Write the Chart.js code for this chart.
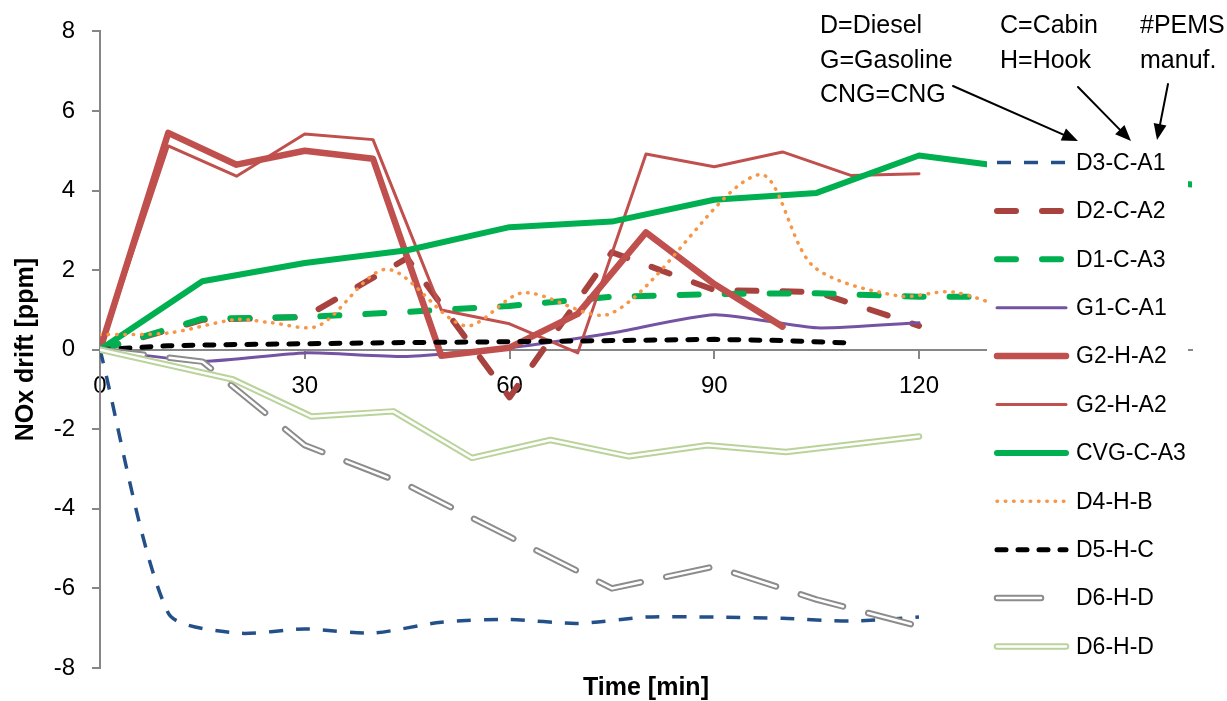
<!DOCTYPE html>
<html>
<head>
<meta charset="utf-8">
<script src="https://cdn.jsdelivr.net/npm/chart.js@4.4.1/dist/chart.umd.min.js"></script>
<style>
  body { margin: 0; background: #fff; }
  canvas { display: block; }
</style>
</head>
<body>
<canvas id="grab" width="1227" height="701"></canvas>
<script>
// values (time in min, NOx drift in ppm)
const labels = ["D3-C-A1", "D2-C-A2", "D1-C-A3", "G1-C-A1", "G2-H-A2", "G2-H-A2",
                "CVG-C-A3", "D4-H-B", "D5-H-C", "D6-H-D", "D6-H-D"];

const tD3 = [0, 10, 20, 30, 40, 50, 60, 70, 80, 90, 100, 110, 120];
const yD3 = [0, -6.62, -7.12, -7.02, -7.12, -6.85, -6.78, -6.88, -6.72, -6.72, -6.75, -6.82, -6.72];

const tD2 = [0, 15, 30, 45, 60, 75, 90, 105, 120];
const yD2 = [0, 0.75, 0.82, 2.3, -1.2, 2.45, 1.5, 1.45, 0.6];

const tD1 = [0, 15, 30, 45, 60, 75, 90, 105, 120, 135];
const yD1 = [0, 0.78, 0.82, 0.95, 1.1, 1.33, 1.4, 1.42, 1.33, 1.33];

const tG1 = [0, 15, 30, 45, 60, 75, 90, 105, 120];
const yG1 = [0, -0.29, -0.08, -0.17, 0.05, 0.42, 0.88, 0.55, 0.68];

const tG2a = [0, 10, 20, 30, 40, 50, 60, 70, 80, 90, 100];
const yG2a = [0, 5.45, 4.65, 5.0, 4.8, -0.15, 0.05, 0.9, 2.95, 1.65, 0.58];

const tG2b = [0, 10, 20, 30, 40, 50, 60, 70, 80, 90, 100, 110, 120];
const yG2b = [0, 5.12, 4.36, 5.42, 5.28, 1.0, 0.65, -0.08, 4.92, 4.6, 4.97, 4.38, 4.42];

const tCVG = [0, 15, 30, 45, 60, 75, 90, 105, 120, 135, 160];
const yCVG = [0, 1.72, 2.18, 2.5, 3.08, 3.22, 3.77, 3.94, 4.88, 4.55, 4.15];

const tD4 = [0, 10, 20, 25, 32, 42, 53.5, 62, 75, 96.5, 104.5, 117, 125, 135];
const yD4 = [0.38, 0.42, 0.76, 0.68, 0.6, 2.02, 0.6, 1.43, 0.92, 4.4, 2.1, 1.35, 1.45, 0.9];

const tD5 = [0, 10, 20, 30, 45, 60, 75, 90, 100, 110];
const yD5 = [0, 0.1, 0.13, 0.15, 0.18, 0.2, 0.23, 0.26, 0.23, 0.17];

const tD6a = [0, 15, 30, 45, 60, 75, 90, 105, 120];
const yD6a = [0, -0.3, -2.4, -3.4, -4.7, -6.0, -5.45, -6.28, -6.95];

const tD6b = [0, 19.5, 31, 43, 54.5, 66, 77.5, 89, 100.5, 120];
const yD6b = [0, -0.75, -1.68, -1.55, -2.72, -2.27, -2.68, -2.4, -2.57, -2.18];

const xTicks = [0, 30, 60, 90, 120];
const yTicks = [-8, -6, -4, -2, 0, 2, 4, 6, 8];

const xTitle = "Time [min]";
const yTitle = "NOx drift [ppm]";
const notes = [
  ["D=Diesel", "G=Gasoline", "CNG=CNG"],
  ["C=Cabin", "H=Hook"],
  ["#PEMS", "manuf."]
];

const pts = (xs, ys) => xs.map((x, i) => ({ x: x, y: ys[i] }));

// line styles, one per legend entry (inner = white core of double lines)
const styles = [
  { color: "#24508A", width: 3.5, dash: [14, 13], cap: "butt", tension: 0.25 },
  { color: "#A8423E", width: 6, dash: [19, 26], cap: "round" },
  { color: "#00B050", width: 6, dash: [19, 26], cap: "round" },
  { color: "#7454A2", width: 3, dash: [], cap: "round", tension: 0.2 },
  { color: "#C0504D", width: 6.5, dash: [], cap: "round" },
  { color: "#C0504D", width: 3, dash: [], cap: "round" },
  { color: "#00B050", width: 6, dash: [], cap: "round" },
  { color: "#F79646", width: 3.5, dash: [0.5, 7.8], cap: "round", tension: 0.3 },
  { color: "#000000", width: 5, dash: [9, 12], cap: "round" },
  { color: "#8C8C8C", width: 6.5, dash: [44, 26], cap: "round", inner: 2.5 },
  { color: "#B9D39A", width: 6.5, dash: [], cap: "round", inner: 2.5 }
];

const series = [
  pts(tD3, yD3), pts(tD2, yD2), pts(tD1, yD1), pts(tG1, yG1), pts(tG2a, yG2a),
  pts(tG2b, yG2b), pts(tCVG, yCVG), pts(tD4, yD4), pts(tD5, yD5), pts(tD6a, yD6a), pts(tD6b, yD6b)
];

const datasets = [];
let seq = 0;
series.forEach((data, i) => {
  const s = styles[i];
  datasets.push({
    label: labels[i],
    data: data,
    borderColor: s.color,
    borderWidth: s.width,
    borderDash: s.dash,
    borderCapStyle: s.cap,
    borderJoinStyle: "round",
    tension: s.tension || 0,
    pointRadius: 0,
    fill: false,
    order: 100 - seq++
  });
  if (s.inner) {
    datasets.push({
      label: labels[i] + " inner",
      data: data,
      borderColor: "#ffffff",
      borderWidth: s.inner,
      borderDash: s.dash,
      borderCapStyle: s.cap,
      borderJoinStyle: "round",
      tension: 0,
      pointRadius: 0,
      fill: false,
      order: 100 - seq++
    });
  }
});

const font = '"Liberation Sans", Arial, sans-serif';

const arrow = (ctx, x1, y1, x2, y2) => {
  const a = Math.atan2(y2 - y1, x2 - x1);
  const len = 16, half = 6.5;
  const bx = x2 - len * Math.cos(a), by = y2 - len * Math.sin(a);
  ctx.beginPath();
  ctx.moveTo(x1, y1);
  ctx.lineTo(bx, by);
  ctx.stroke();
  ctx.beginPath();
  ctx.moveTo(x2, y2);
  ctx.lineTo(bx + half * Math.sin(a), by - half * Math.cos(a));
  ctx.lineTo(bx - half * Math.sin(a), by + half * Math.cos(a));
  ctx.closePath();
  ctx.fill();
};

const overlay = {
  id: "overlay",
  afterDraw(chart) {
    const ctx = chart.ctx;
    const area = chart.chartArea;
    ctx.save();
    ctx.fillStyle = "#000";
    ctx.font = "bold 25px " + font;
    ctx.textAlign = "center";
    ctx.textBaseline = "middle";
    ctx.fillText(xTitle, (area.left + area.right) / 2, 688);
    ctx.save();
    ctx.translate(26, (area.top + area.bottom) / 2);
    ctx.rotate(-Math.PI / 2);
    ctx.fillText(yTitle, 0, 0);
    ctx.restore();

    // legend box over the right part of the plot
    ctx.fillStyle = "#fff";
    ctx.fillRect(987, 138, 201, 531);
    ctx.font = "23px " + font;
    ctx.textAlign = "left";
    labels.forEach((lab, i) => {
      const s = styles[i];
      const y = 162.5 + i * 48.4;
      ctx.setLineDash(s.dash);
      ctx.lineCap = s.cap;
      ctx.strokeStyle = s.color;
      ctx.lineWidth = s.width;
      ctx.beginPath();
      ctx.moveTo(997, y);
      ctx.lineTo(1066, y);
      ctx.stroke();
      if (s.inner) {
        ctx.strokeStyle = "#fff";
        ctx.lineWidth = s.inner;
        ctx.stroke();
      }
      ctx.setLineDash([]);
      ctx.fillStyle = "#000";
      ctx.fillText(lab, 1076, y + 1);
    });

    // notes and arrows
    ctx.font = "25px " + font;
    ctx.textBaseline = "alphabetic";
    const colX = [820, 1000, 1140];
    notes.forEach((col, c) => {
      col.forEach((t, r) => ctx.fillText(t, colX[c], 33 + r * 34.5));
    });
    ctx.strokeStyle = "#000";
    ctx.fillStyle = "#000";
    ctx.lineWidth = 2;
    arrow(ctx, 953, 86, 1078, 141);
    arrow(ctx, 1078, 87, 1131, 141);
    arrow(ctx, 1168, 84, 1157, 140);
    ctx.restore();
  }
};

const tickFont = { family: font, size: 24 };
const axisGrid = { drawOnChartArea: false, drawTicks: true, tickLength: 8, color: "#868686", lineWidth: 2 };

new Chart(document.getElementById("grab"), {
  type: "line",
  data: { datasets: datasets },
  options: {
    responsive: false,
    animation: false,
    devicePixelRatio: 1,
    layout: { padding: { left: 0, top: 31, right: 35, bottom: 33 } },
    plugins: { legend: { display: false }, tooltip: { enabled: false } },
    scales: {
      x: {
        type: "linear",
        min: 0,
        max: 160,
        position: { y: 0 },
        afterBuildTicks: (s) => { s.ticks = xTicks.map(v => ({ value: v })); },
        ticks: { color: "#000", font: tickFont, padding: 14, maxRotation: 0 },
        grid: axisGrid,
        border: { color: "#868686", width: 2 }
      },
      y: {
        min: -8,
        max: 8,
        position: "left",
        afterFit: (s) => { s.width = 100; },
        afterBuildTicks: (s) => { s.ticks = yTicks.map(v => ({ value: v })); },
        ticks: { color: "#000", font: tickFont, padding: 17 },
        grid: axisGrid,
        border: { color: "#868686", width: 2 }
      }
    }
  },
  plugins: [overlay]
});
</script>
</body>
</html>
